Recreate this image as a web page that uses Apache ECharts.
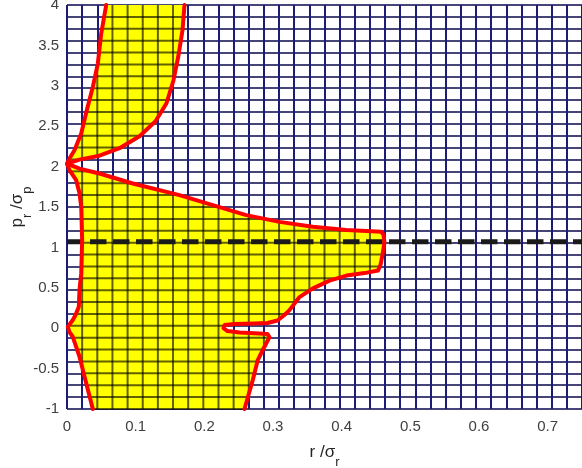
<!DOCTYPE html>
<html><head><meta charset="utf-8">
<script src="https://cdn.jsdelivr.net/npm/echarts@6/dist/echarts.min.js"></script>
<style>html,body{margin:0;padding:0;background:#fff}#c{width:582px;height:468px}</style>
</head><body><div id="c"></div>
<script>
// ---- data ----
const xTickLabels = [0, 0.1, 0.2, 0.3, 0.4, 0.5, 0.6, 0.7];
const yTickLabels = [-1, -0.5, 0, 0.5, 1, 1.5, 2, 2.5, 3, 3.5, 4];
const xRange = [0, 0.75];
const yRange = [-1, 4];
const meshDivisions = 34;
const thresholdY = 1.07;

// left red boundary: from top of upper lobe, down through both cusps, to bottom
const leftEdgeX = [0.0571, 0.0498, 0.0449, 0.0376, 0.0288, 0.0207, 0.0109, 0.0036, 0.0,
  0.0036, 0.0134, 0.0182, 0.0207, 0.0221, 0.0207, 0.0182, 0.0172, 0.0124, 0.0084, 0.0012, 0.0,
  0.0036, 0.0084, 0.0182, 0.028, 0.0376];
const leftEdgeY = [4, 3.646, 3.275, 2.986, 2.698, 2.410, 2.203, 2.100, 2.036,
  1.956, 1.832, 1.671, 1.502, 1.090, 0.678, 0.472, 0.265, 0.163, 0.101, 0.018, 0.0,
  -0.048, -0.106, -0.353, -0.682, -1];
// right red boundary: from bottom, notch, bulge, back to upper cusp, up the lobe
const rightEdgeX = [0.2585, 0.2643, 0.2706, 0.2778, 0.2851, 0.2949, 0.292, 0.2803, 0.2512, 0.2337,
  0.2279, 0.2294, 0.2439, 0.273, 0.292, 0.3065, 0.3167, 0.324, 0.3386, 0.3575, 0.3823, 0.407,
  0.4332, 0.4529, 0.4565, 0.4594, 0.4623, 0.4609, 0.4575, 0.4066, 0.3579, 0.3094, 0.261, 0.2123,
  0.1638, 0.0958, 0.0473, 0.0182, 0.0, 0.0182, 0.0473, 0.0765, 0.1056, 0.1289, 0.1449, 0.1551,
  0.1624, 0.1682, 0.1711];
const rightEdgeY = [-1, -0.827, -0.641, -0.394, -0.270, -0.110, -0.072, -0.066, -0.054, -0.035,
  0.002, 0.039, 0.051, 0.057, 0.064, 0.095, 0.163, 0.224, 0.385, 0.490, 0.589, 0.651,
  0.682, 0.713, 0.781, 0.905, 1.065, 1.158, 1.193, 1.214, 1.255, 1.316, 1.399, 1.523,
  1.647, 1.791, 1.915, 1.974, 2.036, 2.086, 2.135, 2.228, 2.376, 2.562, 2.784, 3.069,
  3.378, 3.687, 4];

// ---- chart ----
const FONT = 'Liberation Sans, Arial, Helvetica, sans-serif';
const polyX = leftEdgeX.concat(rightEdgeX);
const polyY = leftEdgeY.concat(rightEdgeY);
const pairs = (xs, ys) => xs.map((x, i) => [x, ys[i]]);

// crossings of the region outline with a mesh line (even-odd rule)
function crossings(vertical, c) {
  const res = [];
  const n = polyX.length;
  for (let i = 0; i < n; i++) {
    const j = (i + 1) % n;
    const a = vertical ? polyX[i] : polyY[i];
    const b = vertical ? polyX[j] : polyY[j];
    if ((a <= c && b > c) || (b <= c && a > c)) {
      const t = (c - a) / (b - a);
      const o1 = vertical ? polyY[i] : polyX[i];
      const o2 = vertical ? polyY[j] : polyX[j];
      res.push(o1 + t * (o2 - o1));
    }
  }
  return res.sort((u, v) => u - v);
}

const meshAxisBase = {
  type: 'value', min: 0, max: meshDivisions, interval: 1, z: 0,
  axisLine: { show: false }, axisTick: { show: false }, axisLabel: { show: false }
};
const nameRich = {
  a: { fontSize: 17, lineHeight: 16, verticalAlign: 'top', fontFamily: FONT, color: '#262626' },
  s: { fontSize: 13, lineHeight: 36, fontFamily: FONT, color: '#262626' }
};

const chart = echarts.init(document.getElementById('c'), null, { renderer: 'canvas' });
chart.setOption({
  animation: false,
  backgroundColor: '#ffffff',
  grid: { left: 67, right: 0, top: 5, bottom: 59, containLabel: false, outerBoundsMode: 'none' },
  xAxis: [
    {
      type: 'value', min: xRange[0], max: xRange[1], interval: 0.1,
      axisLine: { show: false }, axisTick: { show: false }, splitLine: { show: false },
      axisLabel: { customValues: xTickLabels, fontSize: 15, color: '#404040', margin: 10, fontFamily: FONT },
      name: '{a|r /σ}{s|r}', nameLocation: 'middle', nameGap: 35,
      nameTextStyle: { fontFamily: FONT, color: '#262626', rich: nameRich }
    },
    Object.assign({}, meshAxisBase, { position: 'top',
      splitLine: { show: true, lineStyle: { color: '#1c1c78', width: 2 } } })
  ],
  yAxis: [
    {
      type: 'value', min: yRange[0], max: yRange[1], interval: 0.5,
      axisLine: { show: false }, axisTick: { show: false }, splitLine: { show: false },
      axisLabel: { customValues: yTickLabels, fontSize: 15, color: '#404040', margin: 8, fontFamily: FONT },
      name: '{a|p}{s|r}{a| /σ}{s|p}', nameLocation: 'middle', nameGap: 22, nameMoveOverlap: false,
      nameTextStyle: { fontFamily: FONT, color: '#262626', rich: nameRich }
    },
    Object.assign({}, meshAxisBase, { position: 'right',
      splitLine: { show: true, lineStyle: { color: '#45457a', width: 2 } } })
  ],
  series: [
    {
      type: 'custom', xAxisIndex: 0, yAxisIndex: 0, z: 2, silent: true,
      data: [[0, 0]],
      renderItem: function (params, api) {
        const pts = polyX.map((x, i) => api.coord([x, polyY[i]]));
        const children = [{ type: 'polygon', shape: { points: pts }, style: { fill: '#ffff00', stroke: null } }];
        const lineStyle = { stroke: 'rgba(0,0,0,0.62)', lineWidth: 2 };
        for (let k = 1; k < meshDivisions; k++) {
          const xv = xRange[0] + k * (xRange[1] - xRange[0]) / meshDivisions;
          const cs = crossings(true, xv);
          for (let m = 0; m + 1 < cs.length; m += 2) {
            const p1 = api.coord([xv, cs[m]]), p2 = api.coord([xv, cs[m + 1]]);
            children.push({ type: 'line', shape: { x1: p1[0], y1: p1[1], x2: p2[0], y2: p2[1] }, style: lineStyle });
          }
        }
        for (let k = 0; k < meshDivisions; k++) {
          const yv = yRange[0] + k * (yRange[1] - yRange[0]) / meshDivisions;
          const cs = crossings(false, yv);
          for (let m = 0; m + 1 < cs.length; m += 2) {
            const p1 = api.coord([cs[m], yv]), p2 = api.coord([cs[m + 1], yv]);
            children.push({ type: 'line', shape: { x1: p1[0], y1: p1[1], x2: p2[0], y2: p2[1] }, style: lineStyle });
          }
        }
        return { type: 'group', children: children };
      }
    },
    {
      type: 'line', xAxisIndex: 0, yAxisIndex: 0, z: 4, silent: true,
      data: [[xRange[0], thresholdY], [xRange[1], thresholdY]],
      showSymbol: false, symbol: 'none',
      lineStyle: { color: '#1a1a1a', width: 5, type: [16.5, 6.5], cap: 'butt' }
    },
    {
      type: 'line', xAxisIndex: 0, yAxisIndex: 0, z: 5, silent: true,
      data: pairs(leftEdgeX, leftEdgeY), showSymbol: false, symbol: 'none', smooth: false,
      lineStyle: { color: '#ff0000', width: 4, join: 'round', cap: 'round' }
    },
    {
      type: 'line', xAxisIndex: 0, yAxisIndex: 0, z: 5, silent: true,
      data: pairs(rightEdgeX, rightEdgeY), showSymbol: false, symbol: 'none', smooth: false,
      lineStyle: { color: '#ff0000', width: 4, join: 'round', cap: 'round' }
    }
  ]
});
</script>
</body></html>
